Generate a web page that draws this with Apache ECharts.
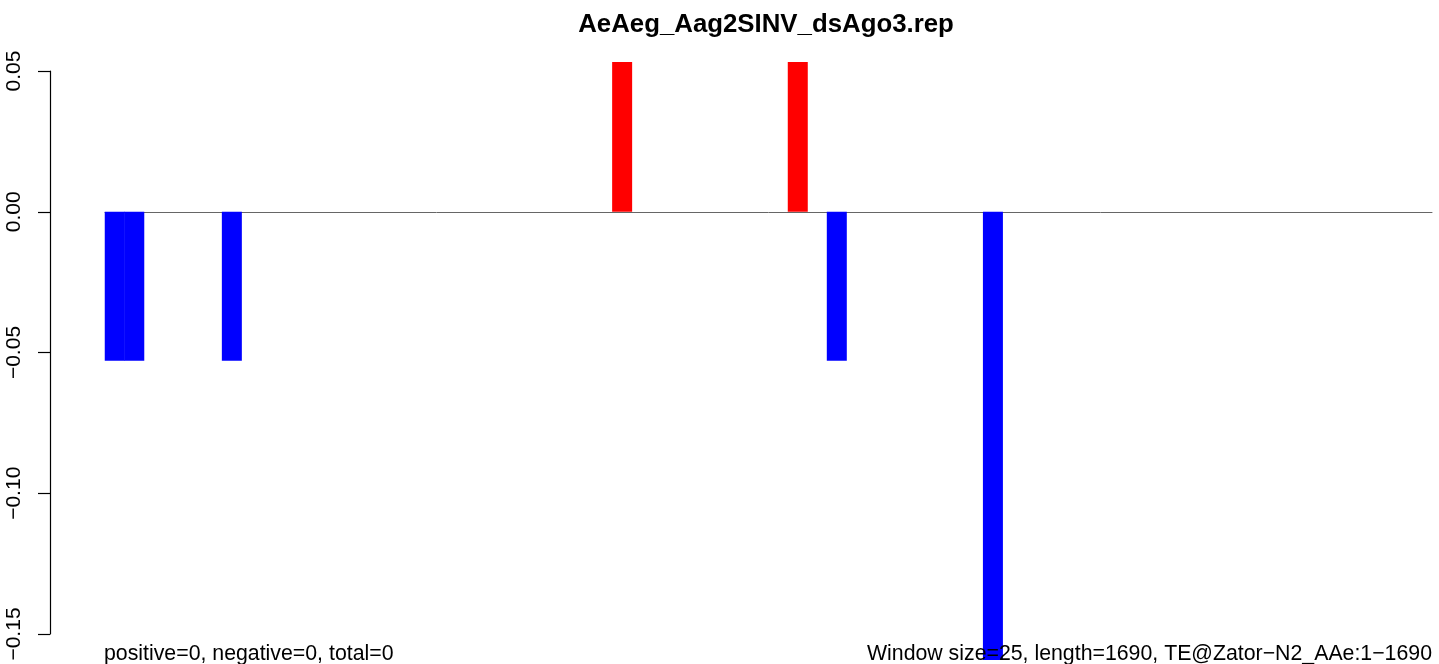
<!DOCTYPE html>
<html>
<head>
<meta charset="utf-8">
<script src="https://cdn.jsdelivr.net/npm/echarts@6/dist/echarts.min.js"></script>
<style>
html,body{margin:0;padding:0;background:#fff;}
#chart{width:1439px;height:664px;}
</style>
</head>
<body>
<div id="chart"></div>
<script>
const titleText = 'AeAeg_Aag2SINV_dsAgo3.rep';
const leftNote = 'positive=0, negative=0, total=0';
const rightNote = 'Window size=25, length=1690, TE@Zator\u2212N2_AAe:1\u22121690';

const windows = [
  '1','2','3','4','5','6','7','8','9','10',
  '11','12','13','14','15','16','17','18','19','20',
  '21','22','23','24','25','26','27','28','29','30',
  '31','32','33','34','35','36','37','38','39','40',
  '41','42','43','44','45','46','47','48','49','50',
  '51','52','53','54','55','56','57','58','59','60',
  '61','62','63','64','65','66','67','68'
];
const values = [
  -0.0529, -0.0529, 0, 0, 0, 0, -0.0529, 0, 0, 0,
  0, 0, 0, 0, 0, 0, 0, 0, 0, 0,
  0, 0, 0, 0, 0, 0, 0.0532, 0, 0, 0,
  0, 0, 0, 0, 0, 0.0532, 0, -0.0529, 0, 0,
  0, 0, 0, 0, 0, -0.1592, 0, 0, 0, 0,
  0, 0, 0, 0, 0, 0, 0, 0, 0, 0,
  0, 0, 0, 0, 0, 0, 0, 0
];
const yTicks = { min: -0.15, max: 0.05, interval: 0.05 };

const POS = '#ff0000', NEG = '#0000ff';
const barData = values.map(function (v) {
  return { value: v, itemStyle: { color: v > 0 ? POS : NEG } };
});

const chart = echarts.init(document.getElementById('chart'), null, {renderer: 'canvas'});
const FONT = '"Liberation Sans", Arial, Helvetica, sans-serif';

chart.setOption({
  animation: false,
  backgroundColor: '#ffffff',
  grid: { left: 105, right: 7, top: 71, bottom: 30, containLabel: false },
  xAxis: {
    type: 'category',
    data: windows,
    boundaryGap: true,
    axisLine: { show: true, onZero: true, lineStyle: { color: '#666666', width: 1 } },
    axisTick: { show: false },
    axisLabel: { show: false },
    splitLine: { show: false }
  },
  yAxis: {
    type: 'value',
    min: yTicks.min,
    max: yTicks.max,
    interval: yTicks.interval,
    offset: 55,
    axisLine: { show: true, lineStyle: { color: '#000000', width: 1.2 } },
    axisTick: { show: true, length: 12, inside: false, lineStyle: { color: '#000000', width: 1.2 } },
    axisLabel: {
      rotate: 90,
      margin: 25,
      fontFamily: FONT,
      fontSize: 21,
      color: '#000000',
      formatter: function (v) {
        const s = Math.abs(v).toFixed(2);
        return v < -1e-9 ? '\u2212' + s : s;
      }
    },
    splitLine: { show: false }
  },
  series: [{
    type: 'bar',
    data: barData,
    barWidth: 20,
    barGap: 0,
    clip: false,
    emphasis: { disabled: true },
    z: 1
  }],
  graphic: [
    {
      type: 'text', z: 100,
      x: 766, y: 25,
      style: {
        text: titleText,
        font: 'bold 25.8px ' + FONT,
        fill: '#000000',
        align: 'center',
        verticalAlign: 'middle'
      }
    },
    {
      type: 'text', z: 100,
      x: 104, y: 654,
      style: {
        text: leftNote,
        font: '21.3px ' + FONT,
        fill: '#000000',
        align: 'left',
        verticalAlign: 'middle'
      }
    },
    {
      type: 'text', z: 100,
      x: 1432, y: 654,
      style: {
        text: rightNote,
        font: '21.3px ' + FONT,
        fill: '#000000',
        align: 'right',
        verticalAlign: 'middle'
      }
    }
  ]
});
</script>
</body>
</html>
